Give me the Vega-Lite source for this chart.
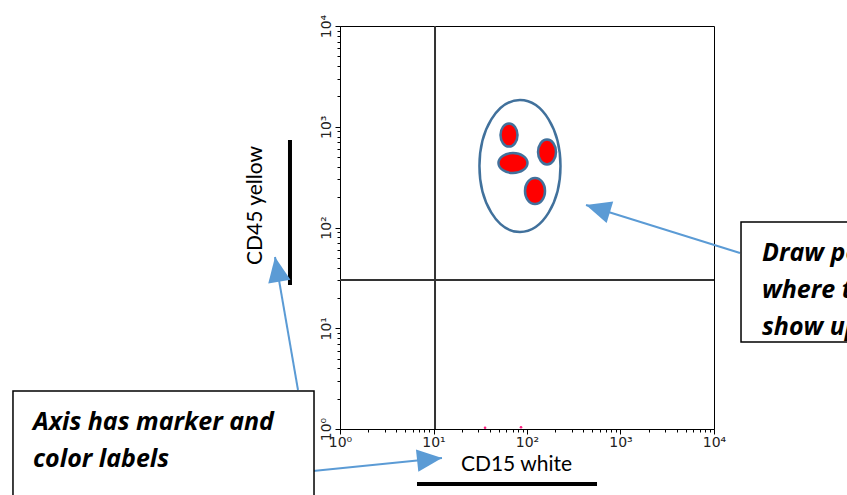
{
  "$schema": "https://vega.github.io/schema/vega-lite/v6.json",
  "width": 374,
  "height": 403,
  "autosize": {"type": "none"},
  "padding": {"left": 340, "top": 26, "right": 133, "bottom": 66},
  "background": "white",
  "config": {
    "view": {"stroke": "#000000", "strokeWidth": 1},
    "axis": {"domainColor": "#000000", "tickColor": "#000000", "labelColor": "#222222", "labelFont": "DejaVu Sans", "labelFontSize": 14, "titleFont": "Lato", "titleFontWeight": "normal", "titleFontSize": 21, "titleColor": "#000000", "grid": false}
  },
  "datasets": {
    "gates": [{"gx": 10.38, "gy": 30.13}],
    "cells": [
      {"cell": "population", "cd15": 84.1, "cd45": 407.4},
      {"cell": "a", "cd15": 64.2, "cd45": 828},
      {"cell": "b", "cd15": 163.7, "cd45": 561.5},
      {"cell": "c", "cd15": 70.8, "cd45": 436.8},
      {"cell": "d", "cd15": 121.8, "cd45": 230.3}
    ],
    "events": [{"cd15": 35.6, "cd45": 1.03}, {"cd15": 86.3, "cd45": 1.04}],
    "boxes": [
      {"box": "axis", "x": 0.000318, "x2": 0.5273, "y": 2.384, "y2": 0.1974, "tx": 0.000521, "ty": 0.9774, "text": "Axis has marker and\ncolor labels"},
      {"box": "draw", "x": 19450, "x2": 364300, "y": 113.4, "y2": 7.304, "tx": 32620, "ty": 46.51, "text": "Draw populations\nwhere they would\nshow up"}
    ],
    "arrows": [
      {"arrow": "1", "x": 0.3555, "y": 2.439, "x2": 0.2018, "y2": 50.96},
      {"arrow": "2", "x": 0.5144, "y": 0.3829, "x2": 12.33, "y2": 0.5155},
      {"arrow": "3", "x": 18975, "y": 55.84, "x2": 427.6, "y2": 167.2}
    ],
    "bars": [
      {"bar": "y", "x": 0.2918, "x2": 0.2918, "y": 738.8, "y2": 26.88},
      {"bar": "x", "x": 6.66, "x2": 560.8, "y": 0.2844, "y2": 0.2844}
    ]
  },
  "layer": [
    {
      "data": {"name": "gates"},
      "mark": {"type": "rule", "color": "#333333", "strokeWidth": 2},
      "encoding": {
        "x": {"field": "gx", "type": "quantitative", "scale": {"type": "log", "domain": [1, 10000], "nice": false},
          "axis": {"title": "CD15 white", "titleX": 176, "titleY": 35, "titleAlign": "center", "titleBaseline": "middle",
            "values": [1,2,3,4,5,6,7,8,9,10,20,30,40,50,60,70,80,90,100,200,300,400,500,600,700,800,900,1000,2000,3000,4000,5000,6000,7000,8000,9000,10000],
            "labelExpr": "datum.value == 1 ? '10⁰' : datum.value == 10 ? '10¹' : datum.value == 100 ? '10²' : datum.value == 1000 ? '10³' : datum.value == 10000 ? '10⁴' : ''",
            "labelPadding": 1, "labelFlush": false, "labelOverlap": false,
            "tickSize": {"condition": {"test": "indexof([1,10,100,1000,10000], datum.value) >= 0", "value": 5}, "value": 3}}}
      }
    },
    {
      "data": {"name": "gates"},
      "mark": {"type": "rule", "color": "#333333", "strokeWidth": 2},
      "encoding": {
        "y": {"field": "gy", "type": "quantitative", "scale": {"type": "log", "domain": [1, 10000], "nice": false},
          "axis": {"title": "CD45 yellow", "titleX": -85, "titleY": 179, "titleAlign": "center", "titleBaseline": "middle", "titleAngle": -90,
            "values": [1,2,3,4,5,6,7,8,9,10,20,30,40,50,60,70,80,90,100,200,300,400,500,600,700,800,900,1000,2000,3000,4000,5000,6000,7000,8000,9000,10000],
            "labelExpr": "datum.value == 1 ? '10⁰' : datum.value == 10 ? '10¹' : datum.value == 100 ? '10²' : datum.value == 1000 ? '10³' : datum.value == 10000 ? '10⁴' : ''",
            "labelAngle": -90, "labelAlign": "center", "labelBaseline": "bottom", "labelPadding": 2, "labelFlush": false, "labelOverlap": false,
            "tickSize": {"condition": {"test": "indexof([1,10,100,1000,10000], datum.value) >= 0", "value": 5}, "value": 3}}}
      }
    },
    {
      "data": {"name": "events"},
      "mark": {"type": "circle", "color": "#ff2080", "size": 7, "opacity": 1},
      "encoding": {
        "x": {"field": "cd15", "type": "quantitative", "scale": {"type": "log", "domain": [1, 10000], "nice": false}},
        "y": {"field": "cd45", "type": "quantitative", "scale": {"type": "log", "domain": [1, 10000], "nice": false}}
      }
    },
    {
      "data": {"name": "cells"},
      "transform": [{"filter": "datum.cell == 'population'"}],
      "mark": {"type": "point", "shape": "M-0.614,0A0.614,1 0 1,0 0.614,0A0.614,1 0 1,0 -0.614,0Z", "size": 17424, "filled": false, "fill": null, "stroke": "#41719C", "strokeWidth": 2.5, "opacity": 1},
      "encoding": {
        "x": {"field": "cd15", "type": "quantitative", "scale": {"type": "log", "domain": [1, 10000], "nice": false}},
        "y": {"field": "cd45", "type": "quantitative", "scale": {"type": "log", "domain": [1, 10000], "nice": false}}
      }
    },
    {
      "data": {"name": "cells"},
      "transform": [{"filter": "datum.cell == 'a'"}],
      "mark": {"type": "point", "shape": "M-0.74,0A0.74,1 0 1,0 0.74,0A0.74,1 0 1,0 -0.74,0Z", "size": 529, "filled": true, "fill": "#ff0000", "stroke": "#41719C", "strokeWidth": 2.5, "opacity": 1},
      "encoding": {
        "x": {"field": "cd15", "type": "quantitative", "scale": {"type": "log", "domain": [1, 10000], "nice": false}},
        "y": {"field": "cd45", "type": "quantitative", "scale": {"type": "log", "domain": [1, 10000], "nice": false}}
      }
    },
    {
      "data": {"name": "cells"},
      "transform": [{"filter": "datum.cell == 'b'"}],
      "mark": {"type": "point", "shape": "M-0.72,0A0.72,1 0 1,0 0.72,0A0.72,1 0 1,0 -0.72,0Z", "size": 625, "filled": true, "fill": "#ff0000", "stroke": "#41719C", "strokeWidth": 2.5, "opacity": 1},
      "encoding": {
        "x": {"field": "cd15", "type": "quantitative", "scale": {"type": "log", "domain": [1, 10000], "nice": false}},
        "y": {"field": "cd45", "type": "quantitative", "scale": {"type": "log", "domain": [1, 10000], "nice": false}}
      }
    },
    {
      "data": {"name": "cells"},
      "transform": [{"filter": "datum.cell == 'c'"}],
      "mark": {"type": "point", "shape": "M-1,0A1,0.69 0 1,0 1,0A1,0.69 0 1,0 -1,0Z", "size": 841, "filled": true, "fill": "#ff0000", "stroke": "#41719C", "strokeWidth": 2.5, "opacity": 1},
      "encoding": {
        "x": {"field": "cd15", "type": "quantitative", "scale": {"type": "log", "domain": [1, 10000], "nice": false}},
        "y": {"field": "cd45", "type": "quantitative", "scale": {"type": "log", "domain": [1, 10000], "nice": false}}
      }
    },
    {
      "data": {"name": "cells"},
      "transform": [{"filter": "datum.cell == 'd'"}],
      "mark": {"type": "point", "shape": "M-0.77,0A0.77,1 0 1,0 0.77,0A0.77,1 0 1,0 -0.77,0Z", "size": 676, "filled": true, "fill": "#ff0000", "stroke": "#41719C", "strokeWidth": 2.5, "opacity": 1},
      "encoding": {
        "x": {"field": "cd15", "type": "quantitative", "scale": {"type": "log", "domain": [1, 10000], "nice": false}},
        "y": {"field": "cd45", "type": "quantitative", "scale": {"type": "log", "domain": [1, 10000], "nice": false}}
      }
    },
    {
      "data": {"name": "bars"},
      "mark": {"type": "rule", "color": "#000000", "strokeWidth": 4},
      "encoding": {
        "x": {"field": "x", "type": "quantitative", "scale": {"type": "log", "domain": [1, 10000], "nice": false}},
        "x2": {"field": "x2"},
        "y": {"field": "y", "type": "quantitative", "scale": {"type": "log", "domain": [1, 10000], "nice": false}},
        "y2": {"field": "y2"}
      }
    },
    {
      "data": {"name": "arrows"},
      "mark": {"type": "rule", "color": "#5B9BD5", "strokeWidth": 2},
      "encoding": {
        "x": {"field": "x", "type": "quantitative", "scale": {"type": "log", "domain": [1, 10000], "nice": false}},
        "x2": {"field": "x2"},
        "y": {"field": "y", "type": "quantitative", "scale": {"type": "log", "domain": [1, 10000], "nice": false}},
        "y2": {"field": "y2"}
      }
    },
    {
      "data": {"name": "arrows"},
      "transform": [{"filter": "datum.arrow == '1'"}],
      "mark": {"type": "point", "shape": "M0,0L0.9,2L-0.9,2Z", "size": 625, "filled": true, "color": "#5B9BD5", "opacity": 1, "angle": 350},
      "encoding": {
        "x": {"field": "x2", "type": "quantitative", "scale": {"type": "log", "domain": [1, 10000], "nice": false}},
        "y": {"field": "y2", "type": "quantitative", "scale": {"type": "log", "domain": [1, 10000], "nice": false}}
      }
    },
    {
      "data": {"name": "arrows"},
      "transform": [{"filter": "datum.arrow == '2'"}],
      "mark": {"type": "point", "shape": "M0,0L0.9,2L-0.9,2Z", "size": 625, "filled": true, "color": "#5B9BD5", "opacity": 1, "angle": 84},
      "encoding": {
        "x": {"field": "x2", "type": "quantitative", "scale": {"type": "log", "domain": [1, 10000], "nice": false}},
        "y": {"field": "y2", "type": "quantitative", "scale": {"type": "log", "domain": [1, 10000], "nice": false}}
      }
    },
    {
      "data": {"name": "arrows"},
      "transform": [{"filter": "datum.arrow == '3'"}],
      "mark": {"type": "point", "shape": "M0,0L0.9,2L-0.9,2Z", "size": 625, "filled": true, "color": "#5B9BD5", "opacity": 1, "angle": 287},
      "encoding": {
        "x": {"field": "x2", "type": "quantitative", "scale": {"type": "log", "domain": [1, 10000], "nice": false}},
        "y": {"field": "y2", "type": "quantitative", "scale": {"type": "log", "domain": [1, 10000], "nice": false}}
      }
    },
    {
      "data": {"name": "boxes"},
      "mark": {"type": "rect", "fill": "#ffffff", "stroke": "#000000", "strokeWidth": 1.5},
      "encoding": {
        "x": {"field": "x", "type": "quantitative", "scale": {"type": "log", "domain": [1, 10000], "nice": false}},
        "x2": {"field": "x2"},
        "y": {"field": "y", "type": "quantitative", "scale": {"type": "log", "domain": [1, 10000], "nice": false}},
        "y2": {"field": "y2"}
      }
    },
    {
      "data": {"name": "boxes"},
      "mark": {"type": "text", "font": "Open Sans", "fontSize": 25, "fontWeight": "bold", "fontStyle": "italic", "align": "left", "baseline": "alphabetic", "lineBreak": "\n", "lineHeight": 37, "color": "#000000"},
      "encoding": {
        "x": {"field": "tx", "type": "quantitative", "scale": {"type": "log", "domain": [1, 10000], "nice": false}},
        "y": {"field": "ty", "type": "quantitative", "scale": {"type": "log", "domain": [1, 10000], "nice": false}},
        "text": {"field": "text"}
      }
    }
  ]
}
